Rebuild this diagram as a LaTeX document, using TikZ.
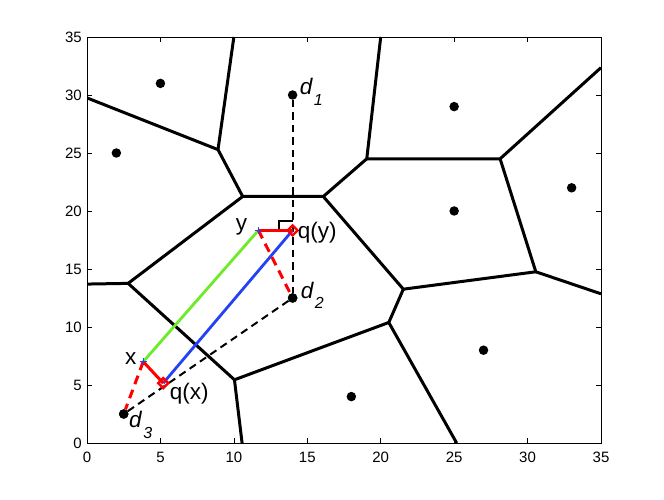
\documentclass[tikz,border=0pt]{standalone}
\usepackage{fontspec}
\setmainfont{Liberation Sans}
\usetikzlibrary{shapes.geometric}
\definecolor{greenline}{RGB}{110,235,40}
\definecolor{blueline}{RGB}{35,65,245}
\begin{document}
\begin{tikzpicture}[x=1pt,y=1pt,
  vor/.style={line width=3pt, black, line join=round},
  site/.style={circle, fill=black, inner sep=0pt, minimum size=9.5pt},
  axbox/.style={line width=0.8pt, black},
  tickmark/.style={line width=0.6pt, black},
  ticklab/.style={font=\fontsize{15}{15}\selectfont, inner sep=0pt},
  lab/.style={font=\fontsize{22.5}{22.5}\selectfont, inner sep=0pt},
  bdash/.style={line width=2pt, black, dash pattern=on 7.5pt off 5pt},
  rdash/.style={line width=3pt, red, dash pattern=on 9pt off 6pt},
  rsolid/.style={line width=3pt, red},
  gline/.style={line width=2.8pt, greenline},
  bline/.style={line width=2.8pt, blueline},
  qmark/.style={diamond, draw=red, line width=2.4pt, inner sep=0pt, minimum width=11pt, minimum height=11pt},
  plusmark/.style={line width=1.4pt, blueline}
]
\useasboundingbox (0,0) rectangle (664,500);
\fill[white] (0,0) rectangle (664,500);
\begin{scope}[shift={(87pt,57pt)},x=14.686pt,y=11.6pt]
  % Voronoi vertices
  \coordinate (A) at (8.92,25.29);
  \coordinate (B) at (10.60,21.25);
  \coordinate (C) at (16.09,21.25);
  \coordinate (D) at (19.05,24.5);
  \coordinate (E) at (28.13,24.5);
  \coordinate (F) at (30.56,14.76);
  \coordinate (G) at (21.54,13.26);
  \coordinate (H) at (20.55,10.39);
  \coordinate (I) at (10.04,5.45);
  \coordinate (J) at (2.80,13.76);
  \coordinate (L1) at (0,29.75);
  \coordinate (T1) at (10,35);
  \coordinate (T2) at (20,35);
  \coordinate (R1) at (35,32.36);
  \coordinate (R2) at (35,12.86);
  \coordinate (BB1) at (25.17,0);
  \coordinate (BB2) at (10.56,0);
  \coordinate (L2) at (0,13.70);
  \begin{scope}
    \clip (0,0) rectangle (35,35);
    \draw[vor] (L1) -- (A) -- (B) -- (C) -- (D) -- (T2);
    \draw[vor] (T1) -- (A);
    \draw[vor] (D) -- (E) -- (R1);
    \draw[vor] (E) -- (F) -- (R2);
    \draw[vor] (F) -- (G) -- (C);
    \draw[vor] (G) -- (H) -- (BB1);
    \draw[vor] (H) -- (I) -- (BB2);
    \draw[vor] (I) -- (J) -- (L2);
    \draw[vor] (J) -- (B);
  \end{scope}
  % axes
  \draw[axbox] (0,0) rectangle (35,35);
  \foreach \v in {5,10,...,30} {
    \draw[tickmark] (\v,0) -- ++(0,5pt);
    \draw[tickmark] (\v,35) -- ++(0,-5pt);
    \draw[tickmark] (0,\v) -- ++(5pt,0);
    \draw[tickmark] (35,\v) -- ++(-5pt,0);
  }
  \foreach \v in {0,5,...,35} {
    \node[ticklab, anchor=north] (xl\v) at ([yshift=-8.5pt]\v,0) {\v};
    \node[ticklab, anchor=east] (yl\v) at ([xshift=-5pt]0,\v) {\v};
  }
  % sites
  \node[site] (s1) at (5,31) {};
  \node[site] (s2) at (2,25) {};
  \node[site] (d1) at (14,30) {};
  \node[site] (s4) at (25,29) {};
  \node[site] (s5) at (25,20) {};
  \node[site] (s6) at (33,22) {};
  \node[site] (d2) at (14,12.5) {};
  \node[site] (s8) at (27,8) {};
  \node[site] (s9) at (18,4) {};
  \node[site] (d3) at (2.5,2.5) {};
  % points
  \coordinate (py) at (11.67,18.33);
  \coordinate (qy) at (14,18.33);
  \coordinate (px) at (3.83,7.01);
  \coordinate (qx) at (5.19,5.16);
  % dashed black
  \draw[bdash] (d1) -- (d2);
  \draw[bdash] (d2) -- (d3);
  % right angle
  \draw[line width=1.5pt, black] ([xshift=-13.5pt]qy) -- ([xshift=-13.5pt,yshift=9.3pt]qy) -- ([yshift=9.3pt]qy);
  % green / blue
  \draw[gline] (py) -- (px);
  \draw[bline] (qy) -- (qx);
  % red
  \draw[rdash] (py) -- (d2);
  \draw[rdash] (px) -- (d3);
  \draw[rsolid] (py) -- (qy);
  \draw[rsolid] (px) -- (qx);
  % markers
  \node[qmark] (qyd) at (qy) {};
  \node[qmark] (qxd) at (qx) {};
  \draw[plusmark] ([xshift=-3.5pt]py) -- ([xshift=3.5pt]py) ([yshift=-3.5pt]py) -- ([yshift=3.5pt]py);
  \draw[plusmark] ([xshift=-3.5pt]px) -- ([xshift=3.5pt]px) ([yshift=-3.5pt]px) -- ([yshift=3.5pt]px);
  % redraw sites on top
  \fill (d2) circle (4.75pt);
  \fill (d3) circle (4.75pt);
  % labels
  \node[lab, anchor=base east] (ly) at ([xshift=-11pt,yshift=-0.5pt]py) {y};
  \node[lab, anchor=base west] (lqy) at ([xshift=5pt,yshift=-8pt]qy) {q(y)};
  \node[lab, anchor=base east] (lx) at ([xshift=-6.6pt,yshift=-3.3pt]px) {x};
  \node[lab, anchor=base west] (lqx) at ([xshift=6.4pt,yshift=-16.7pt]qx) {q(x)};
  \node[lab, anchor=base west] (ld1) at ([xshift=7pt,yshift=0.7pt]d1.center) {\textit{d}\hspace{1pt}\raisebox{-11pt}{\fontsize{16}{16}\selectfont\textit{1}}};
  \node[lab, anchor=base west] (ld2) at ([xshift=8pt,yshift=-0.7pt]d2.center) {\textit{d}\hspace{1pt}\raisebox{-10pt}{\fontsize{16}{16}\selectfont\textit{2}}};
  \node[lab, anchor=base west] (ld3) at ([xshift=5.3pt,yshift=-14pt]d3.center) {\textit{d}\hspace{1pt}\raisebox{-11pt}{\fontsize{16}{16}\selectfont\textit{3}}};
\end{scope}
\end{tikzpicture}
\end{document}
